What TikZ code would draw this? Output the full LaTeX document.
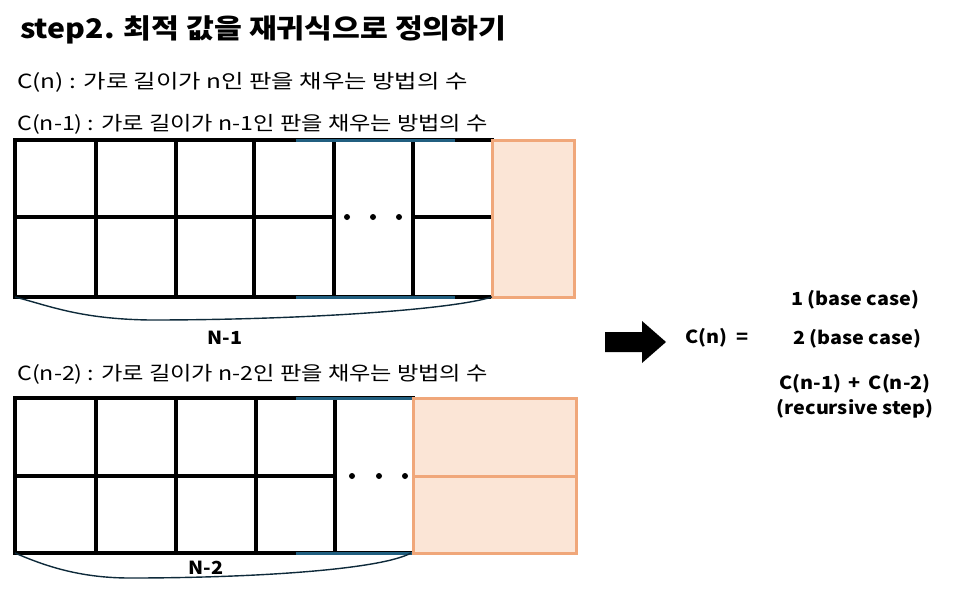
\documentclass[tikz,border=0pt]{standalone}
\usepackage{fontspec}
\setmainfont{Noto Sans CJK KR}
\definecolor{edgeblue}{HTML}{215F80}
\definecolor{orfill}{HTML}{FBE5D6}
\definecolor{ordraw}{HTML}{F0A77A}
\definecolor{bracec}{HTML}{0E2A3A}
\newcommand{\wide}[2]{\scalebox{#1}[1]{#2}}
\begin{document}
\begin{tikzpicture}[x=1pt,y=-1pt,
  gridline/.style={line width=3.2pt,black,line cap=rect},
  blueline/.style={line width=3pt,edgeblue},
  orbox/.style={fill=orfill,draw=ordraw,line width=3pt},
  bracecurve/.style={bracec,line width=1.4pt},
  dotmark/.style={circle,fill=black,inner sep=0pt,minimum size=6pt},
  lbl/.style={anchor=west,inner sep=0pt,font=\fontsize{19.5}{22}\selectfont},
  bold/.style={inner sep=0pt,font=\fontsize{18}{21}\selectfont\bfseries}]
\useasboundingbox (0,0) rectangle (976,595);
% texts
\node[anchor=west,inner sep=0pt,font=\fontsize{27}{30}\selectfont\bfseries] (title) at (20,30) {\wide{1.12}{step2. 최적 값을 재귀식으로 정의하기}};
\node[lbl] (cn) at (17,82) {\wide{1.25}{C(n) : 가로 길이가 n인 판을 채우는 방법의 수}};
\node[lbl] (cn1) at (17,124) {\wide{1.19}{C(n-1) : 가로 길이가 n-1인 판을 채우는 방법의 수}};
\node[lbl] (cn2) at (17,374) {\wide{1.19}{C(n-2) : 가로 길이가 n-2인 판을 채우는 방법의 수}};
% top grid
\foreach \x in {15,96,176,254,334,413} \draw[gridline] (\x,140) -- (\x,297);
\draw[gridline] (15,140) -- (492,140);
\draw[gridline] (15,297) -- (492,297);
\draw[gridline] (15,217) -- (334,217);
\draw[gridline] (413,217) -- (492,217);
\draw[blueline] (296,140) -- (455,140);
\draw[blueline] (296,297) -- (455,297);
\draw[orbox] (492,140) rectangle (574,297);
\node[dotmark] (d1) at (347,217) {};
\node[dotmark] (d2) at (373,217) {};
\node[dotmark] (d3) at (399,217) {};
\coordinate (b1s) at (15,297);
\coordinate (b1e) at (492,297);
\draw[bracecurve] (b1s) .. controls (50,306) and (80,319) .. (150,320) .. controls (300,320) and (450,310) .. (b1e);
\node[bold] (n1) at (225,338) {\wide{1.1}{N-1}};
% bottom grid
\foreach \x in {15,96,176,256,335} \draw[gridline] (\x,398) -- (\x,553);
\draw[gridline] (15,398) -- (413,398);
\draw[gridline] (15,553) -- (413,553);
\draw[gridline] (15,476) -- (335,476);
\draw[blueline] (296,398) -- (413,398);
\draw[blueline] (296,553) -- (413,553);
\draw[orbox] (413,398) rectangle (576,476);
\draw[orbox] (413,476) rectangle (576,553);
\node[dotmark] (e1) at (352,476) {};
\node[dotmark] (e2) at (379,476) {};
\node[dotmark] (e3) at (405,476) {};
\coordinate (b2s) at (15,553);
\coordinate (b2e) at (411,553);
\draw[bracecurve] (b2s) .. controls (45,566) and (80,578) .. (130,578) .. controls (250,578) and (380,570) .. (b2e);
\node[bold] (n2) at (206,568) {\wide{1.1}{N-2}};
% arrow
\fill[black] (605,332) -- (642,332) -- (642,321) -- (666,342) -- (642,363) -- (642,352) -- (605,352) -- cycle;
\node[bold] (eq) at (717,338) {\wide{1.1}{C(n) \ =}};
\node[bold] (r1) at (855,300) {\wide{1.1}{1 (base case)}};
\node[bold] (r2) at (857,339) {\wide{1.1}{2 (base case)}};
\node[bold] (r3) at (855,384) {\wide{1.1}{C(n-1) \,+\, C(n-2)}};
\node[bold] (r4) at (855,409) {\wide{1.1}{(recursive step)}};
\end{tikzpicture}
\end{document}
